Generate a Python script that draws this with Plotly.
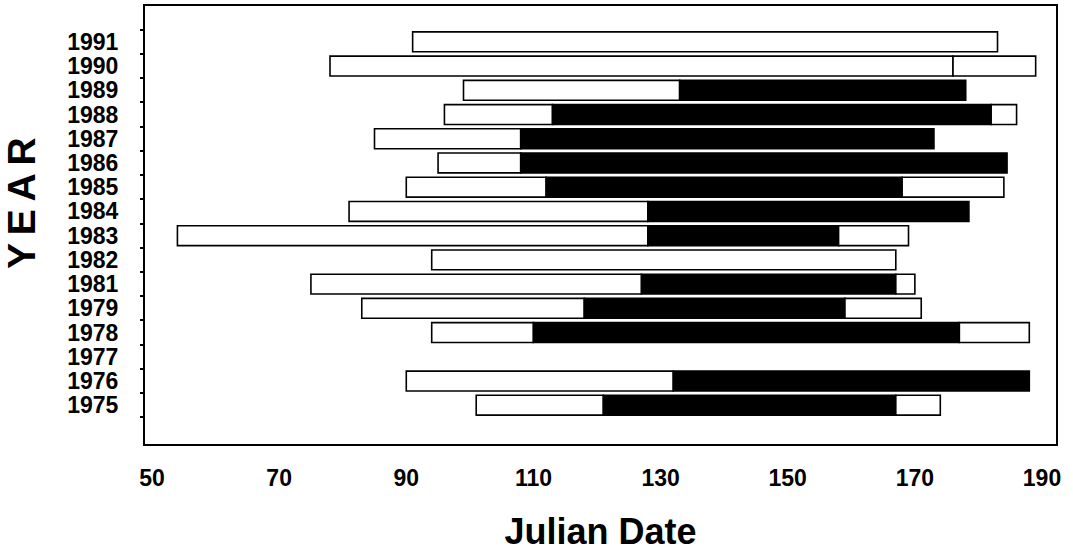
import plotly.graph_objects as go

# Years shown top to bottom (1980 has no row; 1977 has a row but no observations)
years = ["1991", "1990", "1989", "1988", "1987", "1986", "1985", "1984",
         "1983", "1982", "1981", "1979", "1978", "1977", "1976", "1975"]

# Julian dates: first seen, start of main period, end of main period, last seen
first_seen = [91, 78, 99, 96, 85, 95, 90, 81, 54, 94, 75, 83, 94, None, 90, 101]
main_start = [None, 176, 133, 113, 108, 108, 112, 128, 128, None, 127, 118, 110, None, 132, 121]
main_end = [None, 176, 178, 182, 173, 184.5, 168, 178.5, 158, None, 167, 159, 177, None, 188, 167]
last_seen = [183, 189, 178, 186, 173, 184.5, 184, 178.5, 169, 167, 170, 171, 188, None, 188, 174]

x_ticks = [50, 70, 90, 110, 130, 150, 170, 190]

n = len(years)
pos = [n - 1 - i for i in range(n)]

bold = dict(family="Liberation Sans, Arial, sans-serif", color="black")

lw_pos, lw_base, lw_len = [], [], []
blk_pos, blk_base, blk_len = [], [], []
rw_pos, rw_base, rw_len = [], [], []
for p, a, b, c, d in zip(pos, first_seen, main_start, main_end, last_seen):
    if a is None:
        continue
    split = b if b is not None else d
    lw_pos.append(p); lw_base.append(a); lw_len.append(split - a)
    if b is not None and c > b:
        blk_pos.append(p); blk_base.append(b); blk_len.append(c - b)
    if c is not None and d > c:
        rw_pos.append(p); rw_base.append(c); rw_len.append(d - c)

bar_w = 0.82
outline = dict(color="black", width=1.6)

fig = go.Figure()
fig.add_trace(go.Bar(y=lw_pos, x=lw_len, base=lw_base, orientation="h", width=bar_w,
                     marker=dict(color="white", line=outline), showlegend=False))
fig.add_trace(go.Bar(y=blk_pos, x=blk_len, base=blk_base, orientation="h", width=bar_w,
                     marker=dict(color="black", line=outline), showlegend=False))
fig.add_trace(go.Bar(y=rw_pos, x=rw_len, base=rw_base, orientation="h", width=bar_w,
                     marker=dict(color="white", line=outline), showlegend=False))

fig.update_layout(
    width=1073, height=552,
    margin=dict(l=145, r=17, t=4, b=108),
    plot_bgcolor="white", paper_bgcolor="white",
    barmode="overlay",
    xaxis=dict(
        range=[48.9, 192.2], tickmode="array", tickvals=x_ticks,
        ticktext=[str(v) for v in x_ticks],
        showgrid=False, zeroline=False,
        showline=True, mirror=True, linecolor="black", linewidth=2,
        ticks="", ticklabelstandoff=12,
        tickfont=dict(size=23, weight="bold", **bold),
        title=dict(text="Julian Date", font=dict(size=36, weight="bold", **bold), standoff=30),
    ),
    yaxis=dict(
        range=[-1.6, 16.48], tickmode="array", tickvals=pos, ticktext=years,
        showgrid=False, zeroline=False,
        showline=True, mirror=True, linecolor="black", linewidth=2,
        ticks="", ticklabelstandoff=20,
        tickfont=dict(size=23, weight="bold", **bold),
        minor=dict(tickmode="array", tickvals=[p + 0.5 for p in range(-1, n)],
                   ticks="outside", ticklen=3, tickcolor="black", tickwidth=1.5),
    ),
    annotations=[dict(
        text="Y\u2009E\u2009A\u2009R", textangle=-90,
        xref="paper", yref="paper", showarrow=False,
        x=(21 - 145) / (1073 - 145 - 17), y=1 - (202 - 4) / (552 - 4 - 108),
        xanchor="center", yanchor="middle",
        font=dict(size=39, weight="bold", **bold),
    )],
)

fig.write_html("out.html")
